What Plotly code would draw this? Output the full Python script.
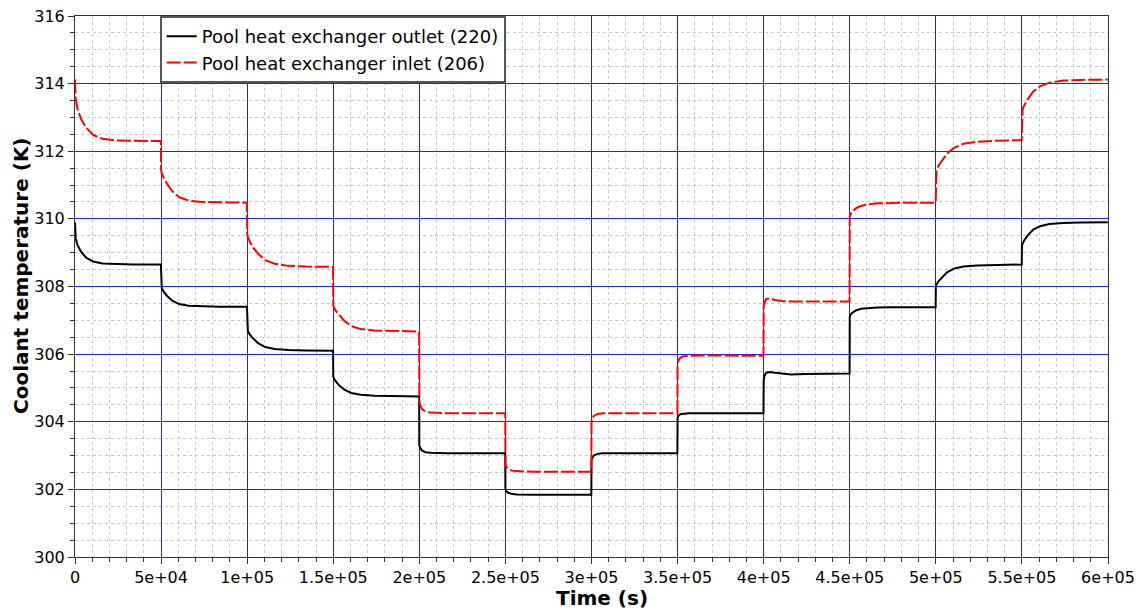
import plotly.graph_objects as go

# Step changes every 5e4 s; each step is sampled at the same offsets (s)
STEP_STARTS = [0, 50000, 100000, 150000, 200000, 250000,
               300000, 350000, 400000, 450000, 500000, 550000]
SAMPLE_OFFSETS = [0, 400, 1500, 3500, 6500, 10500, 16000, 24000, 34000, 49900]

# Pool heat exchanger outlet (220), K, one row per step
outlet_220 = [
    [309.90, 309.42, 309.22, 309.03, 308.85, 308.74, 308.68, 308.66, 308.65, 308.65],
    [308.02, 307.95, 307.85, 307.72, 307.58, 307.48, 307.43, 307.41, 307.40, 307.40],
    [306.75, 306.68, 306.58, 306.46, 306.32, 306.21, 306.15, 306.12, 306.11, 306.10],
    [305.34, 305.28, 305.19, 305.07, 304.95, 304.85, 304.80, 304.77, 304.76, 304.75],
    [303.30, 303.24, 303.15, 303.10, 303.08, 303.07, 303.07, 303.07, 303.07, 303.07],
    [302.00, 301.95, 301.90, 301.87, 301.85, 301.84, 301.84, 301.84, 301.84, 301.84],
    [302.85, 302.93, 303.01, 303.05, 303.07, 303.07, 303.07, 303.07, 303.07, 303.07],
    [304.12, 304.17, 304.22, 304.24, 304.25, 304.25, 304.25, 304.25, 304.25, 304.25],
    [305.22, 305.35, 305.45, 305.47, 305.45, 305.42, 305.40, 305.41, 305.42, 305.43],
    [307.11, 307.16, 307.22, 307.29, 307.34, 307.36, 307.38, 307.39, 307.39, 307.39],
    [307.99, 308.06, 308.15, 308.27, 308.42, 308.53, 308.59, 308.62, 308.64, 308.65],
    [309.18, 309.27, 309.38, 309.52, 309.68, 309.78, 309.85, 309.88, 309.89, 309.90],
]

# Pool heat exchanger inlet (206), K, one row per step
inlet_206 = [
    [314.12, 313.55, 313.25, 312.95, 312.70, 312.48, 312.37, 312.32, 312.31, 312.30],
    [311.45, 311.35, 311.22, 311.03, 310.82, 310.64, 310.54, 310.50, 310.49, 310.48],
    [309.57, 309.47, 309.33, 309.15, 308.96, 308.78, 308.67, 308.61, 308.59, 308.58],
    [307.45, 307.38, 307.28, 307.15, 306.98, 306.83, 306.74, 306.70, 306.68, 306.67],
    [304.62, 304.50, 304.38, 304.30, 304.27, 304.26, 304.25, 304.25, 304.25, 304.25],
    [302.75, 302.68, 302.60, 302.56, 302.54, 302.53, 302.52, 302.52, 302.52, 302.52],
    [304.02, 304.10, 304.18, 304.23, 304.25, 304.25, 304.25, 304.25, 304.25, 304.25],
    [305.72, 305.80, 305.89, 305.94, 305.95, 305.96, 305.96, 305.96, 305.95, 305.95],
    [307.40, 307.52, 307.63, 307.65, 307.60, 307.57, 307.56, 307.56, 307.56, 307.56],
    [310.06, 310.14, 310.22, 310.31, 310.38, 310.43, 310.46, 310.47, 310.48, 310.48],
    [311.34, 311.44, 311.57, 311.72, 311.93, 312.10, 312.22, 312.28, 312.31, 312.33],
    [313.16, 313.25, 313.37, 313.55, 313.76, 313.92, 314.03, 314.09, 314.11, 314.12],
]

x_tick_vals = [0, 50000, 100000, 150000, 200000, 250000, 300000,
               350000, 400000, 450000, 500000, 550000, 600000]
x_tick_text = ["0", "5e+04", "1e+05", "1.5e+05", "2e+05", "2.5e+05", "3e+05",
               "3.5e+05", "4e+05", "4.5e+05", "5e+05", "5.5e+05", "6e+05"]
y_tick_vals = [300, 302, 304, 306, 308, 310, 312, 314, 316]

time_s = [s + o for s in STEP_STARTS for o in SAMPLE_OFFSETS]
outlet_vals = [v for row in outlet_220 for v in row]
inlet_vals = [v for row in inlet_206 for v in row]

FONT = "DejaVu Sans"

fig = go.Figure()
fig.add_trace(go.Scatter(
    x=time_s, y=outlet_vals, mode="lines",
    name="Pool heat exchanger outlet (220)",
    line=dict(color="black", width=2),
))
fig.add_trace(go.Scatter(
    x=time_s, y=inlet_vals, mode="lines",
    name="Pool heat exchanger inlet (206)",
    line=dict(color="red", width=2, dash="14px,3px"),
))

axis_common = dict(
    automargin=False,
    showline=True, linecolor="#333333", linewidth=1, mirror=True,
    ticks="outside", ticklen=6, tickcolor="#333333",
    showgrid=True, gridcolor="rgb(30,30,255)", gridwidth=1,
    zeroline=False,
    tickfont=dict(family=FONT, size=16, color="black"),
)

fig.update_xaxes(
    **axis_common,
    range=[0, 600000],
    tickvals=x_tick_vals, ticktext=x_tick_text,
    minor=dict(dtick=10000, tick0=0, ticks="outside", ticklen=4, tickcolor="#333333",
               showgrid=True, gridcolor="rgb(200,200,200)", griddash="dot", gridwidth=1),
)
fig.update_yaxes(
    **axis_common,
    range=[300, 316],
    tickvals=y_tick_vals,
    minor=dict(dtick=0.5, tick0=300, ticks="outside", ticklen=4, tickcolor="#333333",
               showgrid=True, gridcolor="rgb(200,200,200)", griddash="dot", gridwidth=1),
)

# Axis titles
fig.add_annotation(
    text="<b>Time (s)</b>", xref="paper", yref="paper", x=0.51, y=-0.076,
    xanchor="center", yanchor="middle", showarrow=False,
    font=dict(family=FONT, size=20, color="black"),
)
fig.add_annotation(
    text="<b>Coolant temperature (K)</b>", xref="paper", yref="paper",
    x=-0.053, y=0.52, xanchor="center", yanchor="middle", textangle=-90,
    showarrow=False, font=dict(family=FONT, size=20, color="black"),
)

fig.update_layout(
    width=1139, height=614,
    margin=dict(l=75, r=31, t=16, b=57),
    paper_bgcolor="white", plot_bgcolor="white",
    showlegend=True,
    legend=dict(
        x=0.082, y=1.0, xanchor="left", yanchor="top",
        bgcolor="white", bordercolor="#555555", borderwidth=2,
        font=dict(family=FONT, size=18, color="black"),
        tracegroupgap=0, itemwidth=30,
    ),
)

fig.write_html("out.html")
